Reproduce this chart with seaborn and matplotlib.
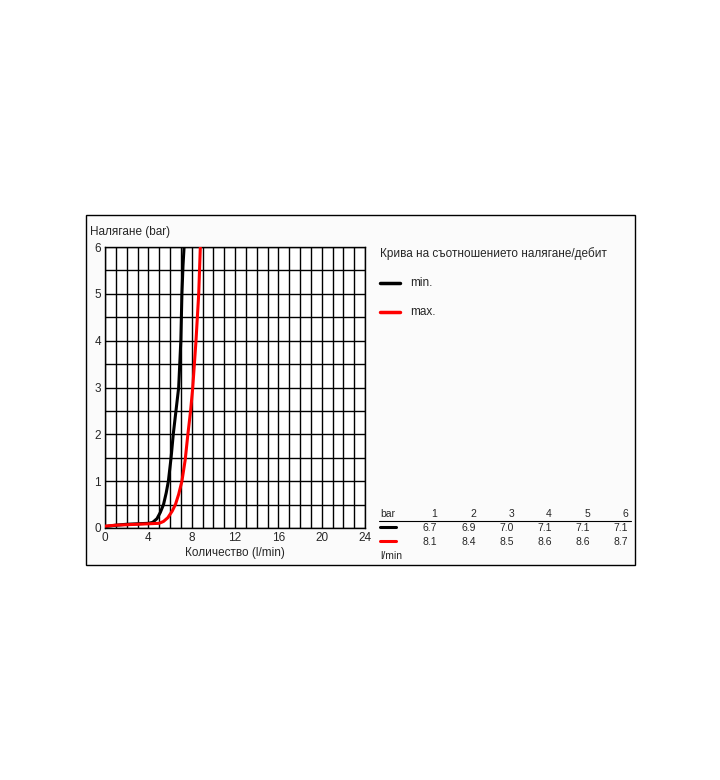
import matplotlib
matplotlib.use("Agg")
import matplotlib.pyplot as plt
import seaborn as sns
import pandas as pd
from matplotlib.patches import Rectangle
from matplotlib.lines import Line2D

# Curve data (flow l/min, pressure bar)
x_min = [0.0, 1.0, 2.0, 3.0, 4.0, 4.4, 4.8, 5.1, 5.4, 5.65, 5.85, 6.1, 6.3, 6.55, 6.8, 7.0, 7.1, 7.2, 7.3]
y_min = [0.03, 0.06, 0.08, 0.09, 0.1, 0.12, 0.2, 0.33, 0.5, 0.75, 1.0, 1.5, 2.0, 2.5, 3.0, 4.0, 5.0, 5.6, 6.0]
x_max = [0.0, 1.0, 2.0, 3.0, 4.0, 5.0, 5.4, 5.8, 6.2, 6.5, 6.8, 7.1, 7.4, 7.65, 7.9, 8.1, 8.4, 8.65, 8.8]
y_max = [0.04, 0.06, 0.07, 0.08, 0.09, 0.1, 0.14, 0.22, 0.36, 0.5, 0.72, 1.0, 1.45, 2.0, 2.5, 3.0, 4.0, 5.0, 6.0]

x_ticks = [0, 4, 8, 12, 16, 20, 24]
y_ticks = [0, 1, 2, 3, 4, 5, 6]

table_bar = ["1", "2", "3", "4", "5", "6"]
table_min = ["6.7", "6.9", "7.0", "7.1", "7.1", "7.1"]
table_max = ["8.1", "8.4", "8.5", "8.6", "8.6", "8.7"]

series_labels = ["min.", "max."]
series_colors = ["black", "#ff0000"]

sns.set_style("white")
plt.rcParams['font.family'] = ['Liberation Sans', 'DejaVu Sans']

W, H = 720, 780
fig = plt.figure(figsize=(7.2, 7.8), dpi=100)
fig.patch.set_facecolor("white")

def fx(px):
    return px / W

def fy(py):
    return 1 - py / H

# outer box
box = Rectangle((fx(85.5), fy(564.5)), fx(634.5) - fx(85.5), fy(214.5) - fy(564.5),
                transform=fig.transFigure, facecolor="#fbfbfb", edgecolor="black",
                linewidth=1.0, zorder=-10)
fig.add_artist(box)

ax = fig.add_axes([fx(105), fy(528), fx(365) - fx(105), fy(247) - fy(528)])
ax.set_zorder(1)
ax.set_facecolor("white")

df_min = pd.DataFrame({"q": x_min, "p": y_min})
df_max = pd.DataFrame({"q": x_max, "p": y_max})
sns.lineplot(data=df_min, x="q", y="p", color=series_colors[0], lw=2.2, ax=ax, sort=False, zorder=5)
sns.lineplot(data=df_max, x="q", y="p", color=series_colors[1], lw=2.2, ax=ax, sort=False, zorder=5)

ax.set_xlim(0, 24)
ax.set_ylim(0, 6)
ax.set_xticks(x_ticks)
ax.set_yticks(y_ticks)
ax.set_xticks([i for i in range(25)], minor=True)
ax.set_yticks([i * 0.5 for i in range(13)], minor=True)
ax.grid(True, which="both", color="black", linewidth=1.0)
ax.set_axisbelow(True)
for s in ax.spines.values():
    s.set_color("black")
    s.set_linewidth(1.0)
ax.tick_params(which="both", length=0, labelsize=8.5, pad=3)
ax.set_xlabel("Количество (l/min)", fontsize=8.5, labelpad=2)
ax.set_ylabel("")

fig.text(fx(90), fy(232), "Налягане (bar)", fontsize=8.5, va="center", ha="left")

# legend area
fig.text(fx(380), fy(254), "Крива на съотношението налягане/дебит", fontsize=8.5, va="center", ha="left")
for i, (lab, col) in enumerate(zip(series_labels, series_colors)):
    yy = fy(283 + 29 * i)
    fig.add_artist(Line2D([fx(380), fx(400)], [yy, yy], color=col, lw=2.5, transform=fig.transFigure))
    fig.text(fx(410), yy, lab, fontsize=8.5, va="center", ha="left")

# table
fig.text(fx(380), fy(514), "bar", fontsize=7.5, va="center", ha="left")
col_x = [437, 476, 514, 552, 590, 628]
for cx, b, a, m in zip(col_x, table_bar, table_min, table_max):
    fig.text(fx(cx), fy(514), b, fontsize=7.5, va="center", ha="right")
    fig.text(fx(cx), fy(528), a, fontsize=7.5, va="center", ha="right")
    fig.text(fx(cx), fy(542), m, fontsize=7.5, va="center", ha="right")
fig.add_artist(Line2D([fx(379), fx(631)], [fy(521), fy(521)], color="black", lw=0.8, transform=fig.transFigure))
fig.add_artist(Line2D([fx(380), fx(396)], [fy(527), fy(527)], color=series_colors[0], lw=2.2, transform=fig.transFigure))
fig.add_artist(Line2D([fx(380), fx(396)], [fy(541), fy(541)], color=series_colors[1], lw=2.2, transform=fig.transFigure))
fig.text(fx(380), fy(556), "l/min", fontsize=7.5, va="center", ha="left")

fig.savefig("out.png", dpi=100, facecolor="white")
